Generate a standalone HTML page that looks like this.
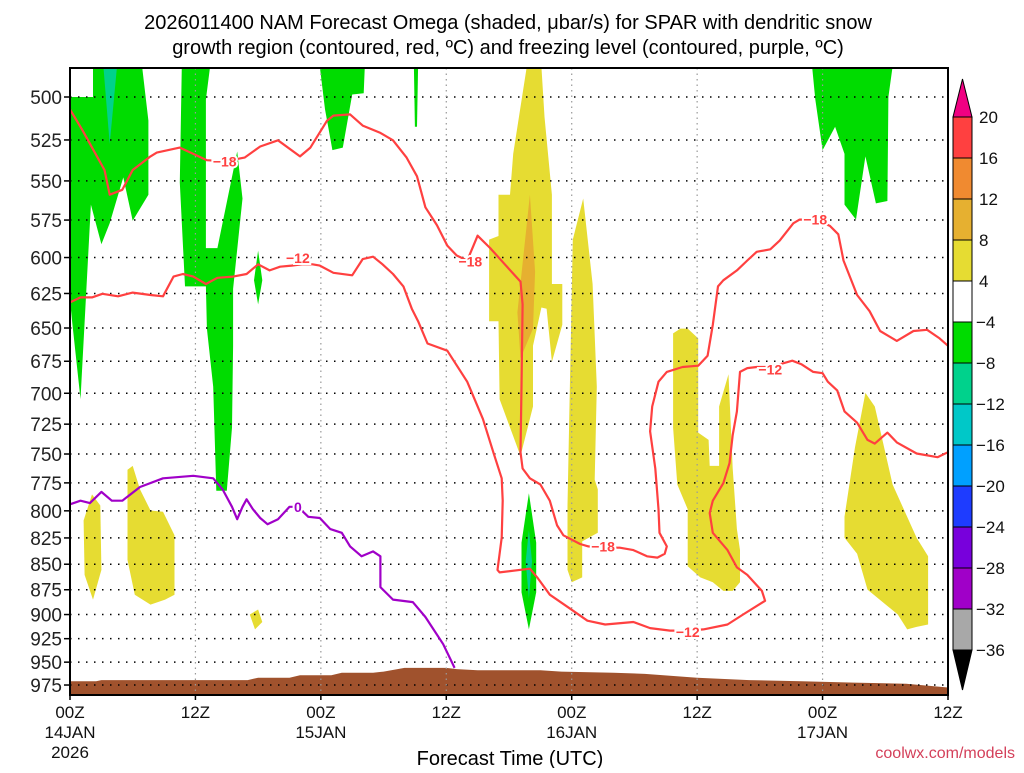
<!DOCTYPE html>
<html><head><meta charset="utf-8">
<style>
html,body{margin:0;padding:0;background:#fff;}
body{width:1024px;height:768px;overflow:hidden;font-family:"Liberation Sans",sans-serif;}
svg text{font-family:"Liberation Sans","DejaVu Sans",sans-serif;}
</style></head>
<body>
<svg id="chart" width="1024" height="768" viewBox="0 0 1024 768" xmlns="http://www.w3.org/2000/svg">
<text x="508" y="29" font-size="20" text-anchor="middle" fill="#000">2026011400 NAM Forecast Omega (shaded, μbar/s) for SPAR with dendritic snow</text>
<text x="508" y="54" font-size="20" text-anchor="middle" fill="#000">growth region (contoured, red, ºC) and freezing level (contoured, purple, ºC)</text>
<g id="plot"></g>
<g id="cbar"></g>
<text x="510" y="765" font-size="20" text-anchor="middle" fill="#000">Forecast Time (UTC)</text>
<text x="1015" y="758" font-size="16" text-anchor="end" fill="#d4405a">coolwx.com/models</text>
</svg>
<script>
// ---- data (hours since 00Z 14JAN, pressure hPa) ----
const pressureTicks = [500,525,550,575,600,625,650,675,700,725,750,775,800,825,850,875,900,925,950,975];
const timeTickHours = [0,12,24,36,48,60,72,84];
const timeTickLabels = [["00Z","14JAN","2026"],["12Z"],["00Z","15JAN"],["12Z"],["00Z","16JAN"],["12Z"],["00Z","17JAN"],["12Z"]];
const greenAreas = [
 [[0,500],[2.2,500],[2.2,483],[6.9,483],[7.5,513.6],[7.5,558.7],[6.0,575.5],[5.1,547.8],[3.8,577.1],[3.0,591],[2.0,565],[1.0,704.7],[0.2,645],[0,629.7]],
 [[10.7,483],[13.4,483],[13.0,501.4],[13.0,593.6],[14.1,593.6],[16.0,531.9],[16.5,561.1],[15.6,621.7],[15.6,663.3],[15.5,727.8],[15.0,782],[14.0,782],[13.7,694.8],[13.1,650.4],[13.0,620],[11.0,620],[10.5,551]],
 [[18.0,595.3],[18.4,615.7],[18.0,632.8],[17.6,615.7]],
 [[23.9,483],[28.2,483],[28.1,497.9],[27.0,498.6],[26.1,529.6],[25.1,531.1],[24.4,507]],
 [[32.9,483],[33.3,483],[33.2,517.2],[33.0,517.2]],
 [[43.9,784.1],[44.6,829.5],[44.6,877.4],[43.9,915.3],[43.2,877.4],[43.2,829.5]],
 [[71.0,483],[78.7,483],[78.3,500],[78.2,562.7],[77.1,564.2],[76.1,534.9],[75.2,574.7],[74.1,565],[74.1,533.4],[73.2,517.2],[72.0,531.1],[71.3,501.4]]
];
const tealAreas = [
 [[3.2,483],[4.5,483],[3.8,527.4]],
 [[43.9,817.9],[44.2,847.2],[43.9,883.7],[43.6,847.2]]
];
const yellowAreas = [
 [[1.3,808.8],[2.1,785.2],[2.9,795.2],[3.0,855.5],[2.2,884.9],[1.4,860.4]],
 [[5.5,763.5],[6.0,760.2],[6.7,780.8],[7.7,799.7],[8.9,800.8],[10.0,822.5],[10.0,879.9],[9.1,884.9],[7.7,889.9],[6.2,879.9],[5.5,845.9]],
 [[17.2,900],[18.0,894.9],[18.4,907.6],[17.7,915.3]],
 [[43.7,483],[45.1,483],[45.4,511.4],[46.1,558.7],[46.1,618.3],[47.1,618.3],[47.1,647.6],[46.1,675.5],[45.6,635.9],[45.1,635],[44.3,663.3],[44.3,710.6],[43.1,751.7],[41.1,704.7],[41.0,645],[40.1,645],[40.1,587.9],[41.0,585.5],[41.0,558.7],[42.1,558.7],[42.4,533.4]],
 [[49.1,561.1],[50.0,618.3],[50.4,694.8],[50.2,772.1],[50.5,780.8],[50.5,820.2],[49.0,828.3],[49.0,862.8],[48.0,867.6],[47.6,855.5],[47.6,795.2],[48.1,587.9]],
 [[57.7,654],[58.4,650.4],[59.1,650.4],[60.1,657.7],[60.1,732],[61.1,738.1],[61.2,760.2],[62.1,760.2],[62.1,710.6],[63.0,685.1],[63.4,762.4],[63.8,816.8],[64.1,836.5],[64.1,867.6],[63.4,876.2],[62.5,876.2],[61.5,867.6],[60.3,862.8],[59.1,851.9],[59.1,798.5],[58.1,776.4],[57.7,727.8]],
 [[76.1,699.7],[77.0,710.6],[78.7,776.4],[81.0,824.8],[82.1,842.4],[82.1,910.2],[81.0,912.7],[80.1,915.3],[79.2,900],[76.3,874.9],[75.3,840],[74.1,824.8],[74.1,805.4],[75.1,744.3]]
];
const orangeAreas = [
 [[44.0,558.7],[44.5,609.7],[44.3,650.4],[43.1,672.7],[42.8,638.6]]
];
const terrainHours = [0,2.5,3,17,18,21,22,25,26,29,30,32,36,37,39,45,47,52,55,60,65,70,75,80,84];
const terrainPressure = [970.9,970.9,969.6,969.6,966.9,966.9,964.2,964.2,961.5,961.5,960.2,956.2,956.2,957.5,958.8,958.8,960.2,961.5,962.8,966.9,969.6,970.9,972.3,973.6,977.7];
const minus18Line = [[0,507.1],[1.2,519.3],[3.3,543.2],[3.8,558.7],[5.0,555.6],[6.0,543.2],[7.7,534.9],[8.3,532.6],[10.5,529.6],[11.8,533.4],[13.1,537.2],[14.8,537.9],[16.7,535.6],[18.2,528.9],[19.9,525.2],[22.0,534.9],[23.0,529.6],[24.6,513.6],[25.2,510.7],[26.8,510],[28.0,516.5],[29.7,520.8],[30.9,525.2],[32.2,535.6],[33.2,547.1],[34.0,566.7],[35.1,578.3],[36.1,591.9],[37.0,598.6],[38.0,602],[38.6,591.9],[39.0,585.3],[40.2,593.6],[41.6,604.6],[43.1,616.6],[43.3,632.8],[43.2,694.8],[43.1,748.5],[43.3,762.4],[44.0,771],[45.0,776.4],[45.9,790.8],[46.6,813.3],[47.2,822.5],[48.8,830.7],[49.6,833],[51.0,834.2],[52.6,834.2],[53.9,836.5],[55.2,842.4],[56.2,843.6],[56.9,840],[57.1,833],[56.4,820.2],[56.3,798.5],[56.0,762.4],[55.5,730.9],[55.7,710.6],[56.3,690.9],[57.1,683.2],[58.6,679.4],[60.1,678.4],[61.0,670.8],[61.5,647.6],[62.0,620],[62.5,615.7],[63.8,608.8],[64.8,602],[65.7,596.1],[67.0,594.4],[67.9,588.6],[69.2,577.1],[69.8,574.7],[71.3,574.7],[72.7,578.8],[73.5,584.4],[74.0,602],[75.3,626.1],[76.5,637.7],[77.5,652.2],[79.1,659.6],[80.7,652.2],[82.0,651.3],[83.2,657.7],[84,663.3]];
const minus12Line = [[0,631.4],[1.0,627.8],[2.1,627.8],[3.1,625.2],[4.6,627],[6.0,624.4],[7.7,626.1],[8.9,627],[9.9,613.1],[10.8,611.3],[11.8,613.1],[13.0,618.3],[14.1,614],[15.6,613.1],[16.9,611.3],[18.0,604.6],[19.1,608.8],[20.1,606.3],[21.2,605.5],[22.2,604.6],[23.2,604.6],[23.9,605.5],[25.2,610.5],[27.0,612.2],[28.0,601.1],[29.0,599.4],[29.9,604.6],[30.9,611.3],[31.9,620],[32.7,635.9],[33.3,645],[34.2,661.5],[36.1,667],[38.0,690.9],[39.5,720.7],[40.5,748.5],[41.3,771],[41.4,790.8],[41.3,824.8],[40.9,855.5],[41.1,857.9],[44.0,854.3],[44.7,862.8],[45.9,879.9],[47.8,893.6],[49.5,906.3],[51.2,910.2],[53.9,907.6],[55.5,914],[57.4,916.6],[59.1,916.6],[60.6,915.3],[62.9,910.2],[64.4,900],[66.5,886.1],[66.2,876.2],[64.8,860.4],[63.8,853.1],[62.9,836.5],[61.5,820.2],[61.2,802],[61.5,790.8],[62.5,775.3],[63.1,757.9],[63.4,734],[63.8,714.6],[64.1,683.2],[64.8,680.3],[65.7,679.4],[67.0,679.4],[69.1,674.6],[70.0,677.4],[71.1,683.2],[72.0,684.2],[72.5,690.9],[73.4,697.7],[74.1,714.6],[75.3,723.8],[76.3,738.1],[77.0,741.2],[78.2,732],[79.1,740.2],[81.0,749.6],[83.0,752.7],[84,748.5]];
const freezingLine = [[0,794.1],[1.0,790.8],[1.9,793],[3.0,783],[4.0,790.8],[5.0,790.8],[6.7,778.6],[8.9,771],[11.8,768.8],[13.7,771],[14.6,780.8],[15.5,796.3],[16.0,807.6],[16.5,796.3],[16.9,789.6],[17.5,798.5],[18.2,806.5],[18.9,812.2],[19.9,807.6],[21.0,796.3],[21.8,796.3],[22.8,805.4],[23.9,806.5],[24.9,816.8],[26.0,820.2],[26.8,833],[27.9,842.4],[29.0,837.7],[29.7,842.4],[29.7,872.4],[30.9,884.9],[32.8,887.4],[34.0,902.5],[35.7,930.8],[36.8,956.2]];
const contourLabels = [[14.8,537.9,"−18","#ff4040"],[38.3,602.8,"−18","#ff4040"],[51.0,833,"−18","#ff4040"],[71.3,574.7,"−18","#ff4040"],[21.8,600.3,"−12","#ff4040"],[59.1,917.9,"−12","#ff4040"],[67.0,681.3,"−12","#ff4040"],[21.8,796.3,"0","#a000c8"]];
const cbarLevels = ["20","16","12","8","4","−4","−8","−12","−16","−20","−24","−28","−32","−36"];
const cbarColors = ["#ff4040","#f08a30","#e6b030","#e6dc32","#ffffff","#00dc00","#00d28c","#00c8c8","#00a0ff","#1e3cff","#7800dc","#a000c8","#a8a8a8"];

// ---- axes ----
const X0=70,X1=948,Y0=68,Y1=695;
function xS(h){return X0+h*(X1-X0)/84;}
function yS(p){return 97+Math.log(p/500)*880.5;}
const NS="http://www.w3.org/2000/svg";
function mk(tag,attrs,parent){const e=document.createElementNS(NS,tag);for(const k in attrs)e.setAttribute(k,attrs[k]);parent.appendChild(e);return e;}
function pts(arr){return arr.map(d=>xS(d[0]).toFixed(1)+","+yS(d[1]).toFixed(1)).join(" ");}
const plot=document.getElementById("plot");
const defs=mk("defs",{},plot);
const cp=mk("clipPath",{id:"clipPlot"},defs);
mk("rect",{x:X0,y:Y0,width:X1-X0,height:Y1-Y0},cp);
const inner=mk("g",{"clip-path":"url(#clipPlot)"},plot);

function drawAreas(list,color,name){
  list.forEach(a=>{
    const el=mk("polygon",{points:pts(a),fill:color},inner);
    
    
  });
}
drawAreas(greenAreas,"#00dc00","omega-green-area");
drawAreas(tealAreas,"#00d28c","omega-teal-area");
drawAreas(yellowAreas,"#e6dc32","omega-yellow-area");
drawAreas(orangeAreas,"#e6b030","omega-orange-area");

// terrain
let tp=terrainHours.map((h,i)=>[h,terrainPressure[i]]);
tp=[[0,1000]].concat(tp).concat([[84,1000]]);
const terr=mk("polygon",{points:pts(tp),fill:"#a0522d"},inner);



// grid
pressureTicks.forEach(p=>{
  const g=mk("line",{x1:X0,x2:X1,y1:yS(p),y2:yS(p),stroke:"#000","stroke-width":1.5,"stroke-dasharray":"1.5,6.5"},inner);
  
  
});
timeTickHours.forEach(h=>{
  const g=mk("line",{x1:xS(h),x2:xS(h),y1:Y0,y2:Y1,stroke:"#999","stroke-width":1.2,"stroke-dasharray":"1.5,4"},inner);
  
  
});

// contour lines
function drawLine(arr,color,name){
  const el=mk("polyline",{points:pts(arr),fill:"none",stroke:color,"stroke-width":2.2,"stroke-linejoin":"round"},inner);
  
  
}
drawLine(minus18Line,"#ff4040","contour-minus18");
drawLine(minus12Line,"#ff4040","contour-minus12");
drawLine(freezingLine,"#a000c8","freezing-level-contour");
contourLabels.forEach(l=>{
  const t=mk("text",{x:xS(l[0]),y:yS(l[1])+5,"font-size":14,"font-weight":"bold","text-anchor":"middle",fill:l[3],stroke:"#fff","stroke-width":4,"paint-order":"stroke"},inner);
  t.textContent=l[2];
  
  
});

// frame
const fr=mk("rect",{x:X0,y:Y0,width:X1-X0,height:Y1-Y0,fill:"none",stroke:"#000","stroke-width":2},plot);



// y ticks
pressureTicks.forEach(p=>{
  mk("line",{x1:X0-6,x2:X0,y1:yS(p),y2:yS(p),stroke:"#000","stroke-width":1.5},plot);
  const t=mk("text",{x:X0-8,y:yS(p)+7,"font-size":19,"text-anchor":"end",fill:"#222"},plot);
  t.textContent=p;
  
  
});
// x ticks
timeTickHours.forEach((h,i)=>{
  mk("line",{x1:xS(h),x2:xS(h),y1:Y1,y2:Y1+5,stroke:"#000","stroke-width":1.5},plot);
  timeTickLabels[i].forEach((s,j)=>{
    const t=mk("text",{x:xS(h),y:Y1+23+j*20,"font-size":17,"text-anchor":"middle",fill:"#111"},plot);
    t.textContent=s;
    
    
  });
});

// color bar
const cb=document.getElementById("cbar");
const CBX=953,CBW=19,CBT=117,CBH=41;
const up=mk("polygon",{points:`${CBX},${CBT} ${CBX+CBW},${CBT} ${CBX+CBW/2},${CBT-38}`,fill:"#f00082",stroke:"#000","stroke-width":1},cb);


cbarColors.forEach((c,i)=>{
  const r=mk("rect",{x:CBX,y:CBT+i*CBH,width:CBW,height:CBH,fill:c,stroke:"#000","stroke-width":1},cb);
  
  
});
const yb=CBT+cbarColors.length*CBH;
const dn=mk("polygon",{points:`${CBX},${yb} ${CBX+CBW},${yb} ${CBX+CBW/2},${yb+40}`,fill:"#000",stroke:"#000","stroke-width":1},cb);


cbarLevels.forEach((s,i)=>{
  const t=mk("text",{x:s.startsWith("−")?976:979,y:CBT+i*CBH+6,"font-size":17,fill:"#111"},cb);
  t.textContent=s;
  
  
});
</script>
</body></html>
